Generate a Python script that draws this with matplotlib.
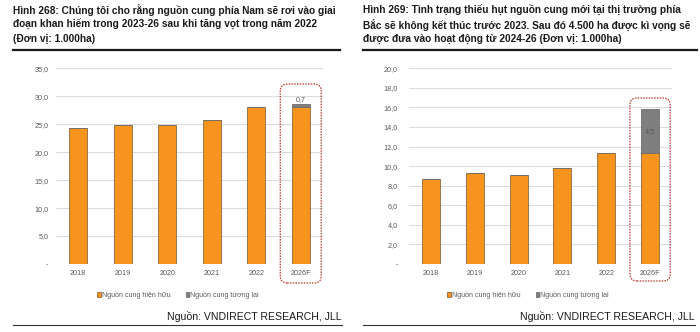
import matplotlib
matplotlib.use("Agg")
import matplotlib.pyplot as plt
from matplotlib.patches import FancyBboxPatch, Patch
from matplotlib.lines import Line2D
from matplotlib import transforms

plt.rcParams['font.family'] = ['Liberation Sans', 'DejaVu Sans']

categories = ["2018", "2019", "2020", "2021", "2022", "2026F"]
south_existing = [24.4, 24.8, 24.9, 25.8, 28.0, 28.0]
south_future = [0, 0, 0, 0, 0, 0.7]
north_existing = [8.7, 9.3, 9.1, 9.8, 11.3, 11.3]
north_future = [0, 0, 0, 0, 0, 4.5]

south_ticks = [0, 5, 10, 15, 20, 25, 30, 35]
north_ticks = [0, 2, 4, 6, 8, 10, 12, 14, 16, 18, 20]

title_left = ("Hình 268: Chúng tôi cho rằng nguồn cung phía Nam sẽ rơi vào giai\n"
              "đoạn khan hiếm trong 2023-26 sau khi tăng vọt trong năm 2022\n"
              "(Đơn vị: 1.000ha)")
title_right = ("Hình 269: Tình trạng thiếu hụt nguồn cung mới tại thị trường phía\n"
               "Bắc sẽ không kết thúc trước 2023. Sau đó 4.500 ha được kì vọng sẽ\n"
               "được đưa vào hoạt động từ 2024-26 (Đơn vị: 1.000ha)")
legend_labels = ["Nguồn cung hiện hữu", "Nguồn cung tương lai"]
source = "Nguồn: VNDIRECT RESEARCH, JLL"

ORANGE = "#F7941D"
EDGE = "#8C6A3F"
GRAY = "#7F7F7F"
GRID = "#D9D9D9"
TXT = "#595959"

W, H = 700, 332
fig = plt.figure(figsize=(W / 100, H / 100), dpi=100)


def fx(px):
    return px / W


def fy(py):
    return 1 - py / H


def panel(x0, x1, existing, future, ticks, ymax, fut_label, label_inside,
          box_top, box_bot, title, tx, line_x0, line_x1, leg_x, src_x, ypad):
    ax = fig.add_axes([fx(x0), fy(264), fx(x1 - x0), (264 - 68.3) / H])
    xs = list(range(len(categories)))
    ax.bar(xs, existing, width=0.41, color=ORANGE, edgecolor=EDGE, linewidth=0.6, zorder=3)
    ax.bar(xs, future, width=0.41, bottom=existing, color=GRAY, edgecolor="#6E6E6E",
           linewidth=0.6, zorder=3)
    ax.set_xlim(-0.5, len(categories) - 0.5)
    ax.set_ylim(0, ymax)
    ax.set_yticks(ticks)
    ax.set_yticklabels(["-" if t == 0 else f"{t:.1f}".replace(".", ",") for t in ticks])
    ax.set_xticks(xs)
    ax.set_xticklabels(categories)
    ax.tick_params(axis="both", length=0, labelsize=5.2, colors=TXT)
    ax.tick_params(axis="y", pad=ypad)
    ax.tick_params(axis="x", pad=4)
    ax.grid(axis="y", color=GRID, linewidth=0.7, zorder=0)
    for s in ax.spines.values():
        s.set_visible(False)
    ax.axhline(0, color="#BFBFBF", linewidth=0.7, zorder=2)
    # future data label
    i = len(categories) - 1
    if label_inside:
        ax.text(i, existing[i] + future[i] * 0.5, fut_label, ha="center", va="center",
                fontsize=5.2, color="#555555", zorder=4)
    else:
        ax.text(i, existing[i] + future[i], fut_label, ha="center", va="bottom",
                fontsize=5.2, color="#555555", zorder=4)
    # dashed rounded highlight box
    fig.canvas.draw()
    p0 = ax.transData.transform((i - 0.46, 0))
    p1 = ax.transData.transform((i + 0.46, 0))
    top = H - box_top
    bot = H - box_bot
    box = FancyBboxPatch((p0[0], bot), p1[0] - p0[0], top - bot,
                         boxstyle="round,pad=0,rounding_size=7",
                         transform=transforms.IdentityTransform(),
                         fill=False, edgecolor="#C0392B", linestyle=(0, (1.2, 1.0)),
                         linewidth=0.9, clip_on=False, zorder=5)
    fig.add_artist(box)
    # title
    fig.text(fx(tx), fy(4), title, ha="left", va="top", fontsize=7.3,
             fontweight="bold", color="#1A1A1A", linespacing=1.38)
    fig.add_artist(Line2D([fx(line_x0), fx(line_x1)], [fy(50), fy(50)],
                          color="#1A1A1A", linewidth=1.6))
    # legend
    handles = [Patch(facecolor=ORANGE, edgecolor=EDGE, linewidth=0.6),
               Patch(facecolor=GRAY, edgecolor="#6E6E6E", linewidth=0.6)]
    fig.legend(handles, legend_labels, loc="center", bbox_to_anchor=(fx(leg_x), fy(295)),
               ncol=2, frameon=False, fontsize=5.0, labelcolor=TXT,
               handlelength=0.55, handleheight=0.55, handletextpad=0.15,
               columnspacing=2.2)
    # source
    fig.text(fx(src_x), fy(316), source, ha="right", va="center", fontsize=7.6,
             color="#1A1A1A")
    fig.add_artist(Line2D([fx(line_x0), fx(src_x)], [fy(325), fy(325)],
                          color="#333333", linewidth=0.8))
    return ax


panel(56, 323, south_existing, south_future, south_ticks, 35, "0,7", False,
      84, 283, title_left, 13, 13, 340, 178, 342, 5.5)
panel(409, 672, north_existing, north_future, north_ticks, 20, "4,5", True,
      98, 281, title_right, 363, 363, 697, 528, 695, 8)

fig.savefig("out.png", dpi=100)
